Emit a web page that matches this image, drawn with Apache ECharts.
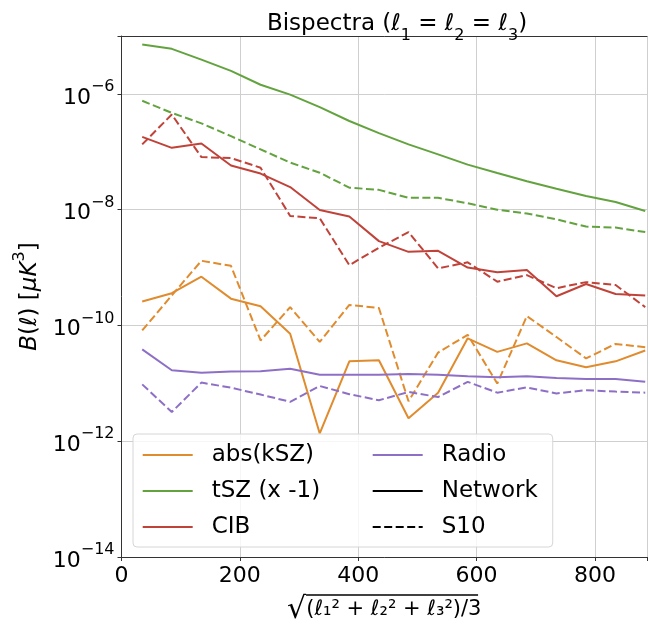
<!DOCTYPE html>
<html>
<head>
<meta charset="utf-8">
<script src="https://cdn.jsdelivr.net/npm/echarts/dist/echarts.min.js"></script>
<style>html,body{margin:0;padding:0;background:#fff;}#c{width:650px;height:630px;}</style>
</head>
<body>
<div id="c"></div>
<script>
const ell = [35, 85, 135, 185, 235, 285, 335, 385, 435, 485, 535, 585, 635, 685, 735, 785, 835, 885];

const kszNet = [2.6e-10, 3.6e-10, 6.95e-10, 2.9e-10, 2.15e-10, 7.2e-11, 1.36e-12, 2.4e-11, 2.5e-11, 2.5e-12, 6.9e-12, 6.0e-11, 3.5e-11, 4.9e-11, 2.5e-11, 1.9e-11, 2.4e-11, 3.7e-11];
const kszS10 = [8.2e-11, 3.3e-10, 1.31e-9, 1.07e-9, 5.5e-11, 2.07e-10, 5.2e-11, 2.26e-10, 2.0e-10, 4.9e-12, 3.4e-11, 6.9e-11, 9.9e-12, 1.45e-10, 6.3e-11, 2.7e-11, 4.8e-11, 4.2e-11];
const tszNet = [7.1e-6, 6.0e-6, 3.9e-6, 2.5e-6, 1.44e-6, 9.7e-7, 5.9e-7, 3.4e-7, 2.1e-7, 1.34e-7, 9.0e-8, 6.0e-8, 4.3e-8, 3.1e-8, 2.3e-8, 1.72e-8, 1.36e-8, 9.5e-9];
const tszS10 = [7.6e-7, 4.7e-7, 3.1e-7, 1.86e-7, 1.1e-7, 6.5e-8, 4.35e-8, 2.4e-8, 2.2e-8, 1.6e-8, 1.6e-8, 1.29e-8, 1.0e-8, 8.6e-9, 6.8e-9, 5.1e-9, 4.9e-9, 4.1e-9];
const cibNet = [1.81e-7, 1.17e-7, 1.39e-7, 5.8e-8, 4.2e-8, 2.46e-8, 9.9e-9, 7.6e-9, 2.86e-9, 1.87e-9, 1.95e-9, 1.0e-9, 8.3e-10, 9.1e-10, 3.2e-10, 5.2e-10, 3.5e-10, 3.3e-10];
const cibS10 = [1.34e-7, 4.4e-7, 8.1e-8, 7.8e-8, 5.3e-8, 7.8e-9, 7.1e-9, 1.1e-9, 2.2e-9, 4.1e-9, 9.7e-10, 1.23e-9, 5.7e-10, 7.4e-10, 4.4e-10, 5.6e-10, 5.0e-10, 2.07e-10];
const radioNet = [3.85e-11, 1.68e-11, 1.53e-11, 1.6e-11, 1.62e-11, 1.79e-11, 1.41e-11, 1.41e-11, 1.41e-11, 1.45e-11, 1.41e-11, 1.33e-11, 1.27e-11, 1.33e-11, 1.24e-11, 1.19e-11, 1.19e-11, 1.06e-11];
const radioS10 = [9.6e-12, 3.2e-12, 1.03e-11, 8.4e-12, 6.4e-12, 4.8e-12, 9.0e-12, 6.5e-12, 5.1e-12, 7.1e-12, 5.8e-12, 1.06e-11, 6.9e-12, 8.5e-12, 6.7e-12, 7.6e-12, 7.2e-12, 6.9e-12];

const xTicks = [0, 200, 400, 600, 800];
const yTickExps = [-14, -12, -10, -8, -6];

const FONT = 'DejaVu Sans';
const C_KSZ = '#e08b2d', C_TSZ = '#63a33f', C_CIB = '#c0433a', C_RAD = '#8e6fc6';
const DASH = [8, 3.5];

function pairs(vals) { return ell.map((x, i) => [x, vals[i]]); }
function line(name, vals, color, dashed) {
  return {
    name: name, type: 'line', data: pairs(vals), symbol: 'none', color: color,
    lineStyle: { width: 2, color: color, type: dashed ? DASH : 'solid' },
    emphasis: { disabled: true }
  };
}

const legendText = { fontFamily: FONT, fontSize: 23, lineHeight: 26, color: '#000', padding: [0, 0, 0, 14] };

const chart = echarts.init(document.getElementById('c'), null, { renderer: 'canvas' });
const option = {
  animation: false,
  backgroundColor: '#fff',
  title: {
    text: '{n|Bispectra (}{l|ℓ}{s|1}{n| = }{l|ℓ}{s|2}{n| = }{l|ℓ}{s|3}{n|)}',
    left: 392, top: 8, textAlign: 'center',
    textStyle: {
      fontWeight: 'normal',
      rich: {
        n: { fontFamily: FONT, fontSize: 23, fontWeight: 'normal', color: '#000', lineHeight: 31, verticalAlign: 'top' },
        l: { fontFamily: FONT, fontSize: 23, fontWeight: 'normal', color: '#000', lineHeight: 31, verticalAlign: 'top' },
        s: { fontFamily: FONT, fontSize: 16, fontWeight: 'normal', color: '#000', lineHeight: 31, verticalAlign: 'bottom' }
      }
    }
  },
  grid: { left: 121.5, top: 36, right: -2, bottom: 71 },
  legend: [
    {
      data: ['abs(kSZ)', 'tSZ (x -1)', 'CIB'], orient: 'vertical', left: 133, top: 434,
      padding: [8, 0, 7, 8.7], itemGap: 10, itemWidth: 50, itemHeight: 14, selectedMode: false, z: 6,
      itemStyle: { opacity: 0 },
      textStyle: legendText
    },
    {
      data: ['Radio', 'Network', 'S10'], orient: 'vertical', left: 133, top: 434,
      padding: [8, 15, 7, 238.7], itemGap: 10, itemWidth: 50, itemHeight: 14, selectedMode: false, z: 5,
      itemStyle: { opacity: 0 },
      backgroundColor: 'rgba(255,255,255,0.8)', borderColor: '#d6d6d6', borderWidth: 1, borderRadius: 4,
      textStyle: legendText
    }
  ],
  xAxis: [
    {
      type: 'value', min: 0, max: 888, interval: 200,
      name: '{sp| }{bar| }\n{rad|√}{t|(ℓ₁² + ℓ₂² + ℓ₃²)/3}',
      nameLocation: 'middle', nameGap: 37,
      nameTextStyle: {
        rich: {
          sp: { width: 19, height: 1.5, fontSize: 2, lineHeight: 2, align: 'left' },
          bar: { width: 172, height: 1.5, fontSize: 2, lineHeight: 2, backgroundColor: '#000', align: 'left' },
          rad: { fontFamily: FONT, fontSize: 30, lineHeight: 28, color: '#000', align: 'left' },
          t: { fontFamily: FONT, fontSize: 21, lineHeight: 28, color: '#000', align: 'left' }
        }
      },
      axisLine: { show: true, lineStyle: { color: '#333', width: 1 } },
      axisTick: { show: true, inside: false, length: 4, lineStyle: { color: '#333' } },
      axisLabel: {
        margin: 8, fontFamily: FONT, fontSize: 22, color: '#000',
        formatter: v => (xTicks.indexOf(v) >= 0 ? String(v) : '')
      },
      splitLine: { show: true, lineStyle: { color: '#cfcfcf', width: 1 } }
    },
    {
      type: 'value', position: 'top', min: 0, max: 888,
      axisLine: { show: true, onZero: false, lineStyle: { color: '#333', width: 1 } },
      axisTick: { show: false }, axisLabel: { show: false }, splitLine: { show: false }
    }
  ],
  yAxis: {
    type: 'log', logBase: 100, min: 1e-14, max: 1e-5,
    name: '{it|B}{n|(ℓ) [}{it|μK}{sp|3}{n|]}',
    nameLocation: 'middle', nameGap: 76, nameRotate: 90,
    nameTextStyle: {
      rich: {
        it: { fontFamily: FONT, fontStyle: 'italic', fontSize: 23, color: '#000', lineHeight: 30, verticalAlign: 'bottom' },
        n: { fontFamily: FONT, fontSize: 23, color: '#000', lineHeight: 30, verticalAlign: 'bottom' },
        sp: { fontFamily: FONT, fontSize: 16, color: '#000', lineHeight: 30, verticalAlign: 'top' }
      }
    },
    axisLine: { show: true, lineStyle: { color: '#333', width: 1 } },
    axisTick: { show: true, inside: false, length: 4, lineStyle: { color: '#333' } },
    axisLabel: {
      margin: 7,
      formatter: function (v) {
        const e = Math.round(Math.log10(v));
        if (yTickExps.indexOf(e) < 0) return '';
        return '{b|10}{s|−' + (-e) + '}';
      },
      rich: {
        b: { fontFamily: FONT, fontSize: 22, color: '#000', lineHeight: 30, verticalAlign: 'bottom' },
        s: { fontFamily: FONT, fontSize: 16, color: '#000', lineHeight: 30, verticalAlign: 'top' }
      }
    },
    splitLine: { show: true, lineStyle: { color: '#cfcfcf', width: 1 } }
  },
  series: [
    line('abs(kSZ)', kszNet, C_KSZ, false),
    line('abs(kSZ) S10', kszS10, C_KSZ, true),
    line('tSZ (x -1)', tszNet, C_TSZ, false),
    line('tSZ (x -1) S10', tszS10, C_TSZ, true),
    line('CIB', cibNet, C_CIB, false),
    line('CIB S10', cibS10, C_CIB, true),
    line('Radio', radioNet, C_RAD, false),
    line('Radio S10', radioS10, C_RAD, true),
    { name: 'Network', type: 'line', data: [], symbol: 'none', color: '#000', lineStyle: { width: 2, color: '#000', type: 'solid' } },
    { name: 'S10', type: 'line', data: [], symbol: 'none', color: '#000', lineStyle: { width: 2, color: '#000', type: DASH } }
  ]
};
chart.setOption(option);
</script>
</body>
</html>
